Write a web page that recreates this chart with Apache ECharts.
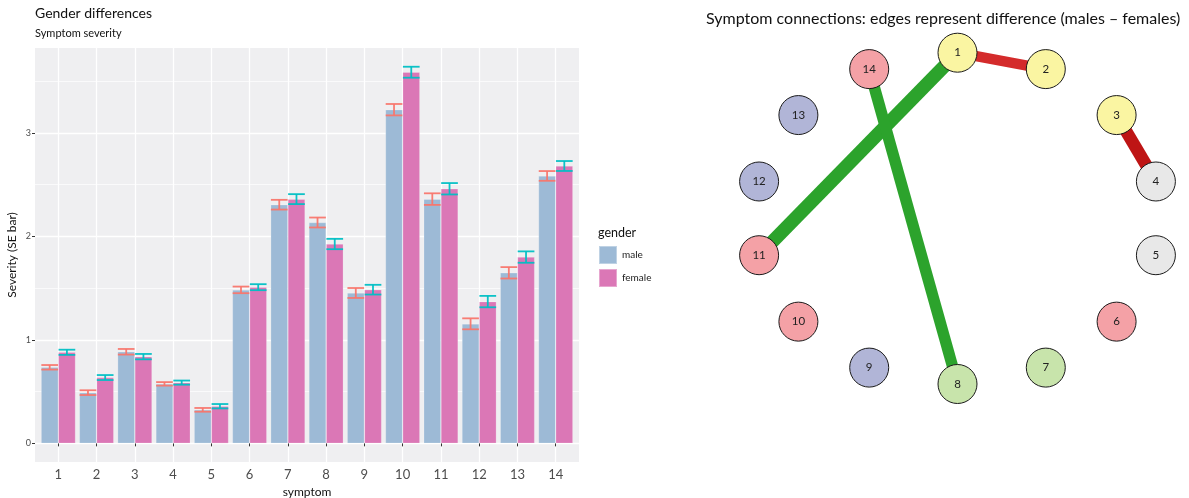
<!DOCTYPE html>
<html><head><meta charset="utf-8">
<script src="https://cdn.jsdelivr.net/npm/echarts@6/dist/echarts.min.js"></script>
<style>html,body{margin:0;padding:0;background:#fff}#c{width:1189px;height:498px}</style>
</head><body><div id="c"></div>
<script>
// ---------- data ----------
const symptoms = ['1','2','3','4','5','6','7','8','9','10','11','12','13','14'];
const maleMean   = [0.735,0.490,0.885,0.575,0.324,1.483,2.306,2.134,1.453,3.224,2.360,1.155,1.648,2.584];
const maleSE     = [0.022,0.023,0.027,0.017,0.018,0.032,0.047,0.048,0.048,0.055,0.056,0.053,0.055,0.047];
const femaleMean = [0.880,0.636,0.838,0.587,0.359,1.509,2.360,1.926,1.485,3.586,2.460,1.370,1.800,2.680];
const femaleSE   = [0.025,0.024,0.026,0.020,0.021,0.029,0.048,0.050,0.047,0.053,0.055,0.055,0.055,0.048];
const yTicks = [0,1,2,3];
const yMinorTicks = [0.5,1.5,2.5,3.5];

const nodes = ['1','2','3','4','5','6','7','8','9','10','11','12','13','14'];
const nodeGroup = ['A','A','A','B','B','C','D','D','E','C','C','E','E','C'];
const edgeFrom = ['1','3','1','14'];
const edgeTo   = ['2','4','11','8'];
const edgeWeight = [-0.40,-0.48,0.52,0.44];

// ---------- styles ----------
const FONT = 'Lato';
const groupColor = {A:'#FAF5A2', B:'#E8E8E8', C:'#F4A1A6', D:'#C8E4AB', E:'#B1B5D7'};
const maleColor = '#9DBAD6', femaleColor = '#DB77B6';
const maleErr = 'rgba(248,118,109,0.95)', femaleErr = 'rgba(0,191,196,0.95)';
const yMin = -0.18, yMax = 3.82;

function edgeColor(w){
  if (w < 0) return Math.abs(w) > 0.45 ? '#BE1515' : '#D42B2B';
  return '#2CA32C';
}

function errRender(sign, color){
  return function(params, api){
    const i = api.value(0);
    const lo = api.coord([i, api.value(1)]);
    const hi = api.coord([i, api.value(2)]);
    const bw = api.size([1, 0])[0];
    const cx = lo[0] + sign * bw * 0.225;
    const hw = bw * 0.225 * 0.97;
    const st = {stroke: color, lineWidth: 1.8};
    return {type:'group', children:[
      {type:'line', shape:{x1:cx-hw, y1:hi[1], x2:cx+hw, y2:hi[1]}, style:st},
      {type:'line', shape:{x1:cx-hw, y1:lo[1], x2:cx+hw, y2:lo[1]}, style:st},
      {type:'line', shape:{x1:cx, y1:lo[1], x2:cx, y2:hi[1]}, style:st}
    ]};
  };
}

const n = nodes.length;
const graphNodes = nodes.map((name, i) => {
  const t = 2 * Math.PI * i / n;
  return {
    name: name,
    value: [Math.sin(t), Math.cos(t)],
    itemStyle: {color: groupColor[nodeGroup[i]]}
  };
});
const graphLinks = edgeFrom.map((s, i) => ({
  source: s, target: edgeTo[i],
  lineStyle: {width: Math.abs(edgeWeight[i]) * 26, color: edgeColor(edgeWeight[i]), opacity: 1, curveness: 0}
}));

const chart = echarts.init(document.getElementById('c'), null, {renderer:'canvas'});
chart.setOption({
  animation: false,
  textStyle: {fontFamily: FONT},
  title: [
    {text:'Gender differences', left:35, top:6, padding:0, textStyle:{fontFamily:FONT, fontSize:14, fontWeight:'normal', color:'#111'}},
    {text:'Symptom severity', left:35, top:28, padding:0, textStyle:{fontFamily:FONT, fontSize:11, fontWeight:'normal', color:'#111'}},
    {text:'Symptom connections: edges represent difference (males \u2013 females)', left:706, top:11, padding:0, textStyle:{fontFamily:FONT, fontSize:16, fontWeight:'normal', color:'#111'}}
  ],
  legend: {
    data: [{name:'male', itemStyle:{color:maleColor}}, {name:'female', itemStyle:{color:femaleColor}}],
    orient:'vertical', left:598, top:245, padding:0, itemWidth:18, itemHeight:18, itemGap:3,
    icon:'rect', selectedMode:false,
    textStyle:{fontFamily:FONT, fontSize:10, color:'#222'}
  },
  graphic: [
    {type:'text', left:598, top:226, style:{text:'gender', fontFamily:FONT, fontSize:12.5, fill:'#111'}},
    {type:'line', shape:{x1:599, y1:254, x2:616, y2:254}, style:{stroke:maleErr, lineWidth:1.5}},
    {type:'line', shape:{x1:599, y1:275, x2:616, y2:275}, style:{stroke:femaleErr, lineWidth:1.5}}
  ],
  grid: [
    {left:35, top:48, width:544, height:414, show:true, backgroundColor:'#EFEFF1', borderWidth:0, outerBoundsMode:'none'},
    {left:58.3, top:48, width:497.4, height:414, outerBoundsMode:'none'},
    {left:754, top:52.7, width:407, height:331.3, outerBoundsMode:'none'}
  ],
  xAxis: [
    {gridIndex:0, type:'value', min:0, max:1, show:false},
    {gridIndex:1, type:'category', data:symptoms, boundaryGap:false,
      axisLine:{show:false},
      axisTick:{show:true, length:3, lineStyle:{color:'#333', width:1}},
      axisLabel:{fontFamily:FONT, fontSize:13, color:'#4D4D4D', margin:6},
      splitLine:{show:true, lineStyle:{color:'#FFFFFF', width:1.3}},
      name:'symptom', nameLocation:'middle', nameGap:22,
      nameTextStyle:{fontFamily:FONT, fontSize:12, color:'#111'}},
    {gridIndex:2, type:'value', min:-1, max:1, show:false}
  ],
  yAxis: [
    {gridIndex:0, type:'value', min:yMin, max:yMax,
      axisLine:{show:false},
      axisTick:{show:true, length:3, customValues:yTicks, lineStyle:{color:'#333', width:1}},
      axisLabel:{fontFamily:FONT, fontSize:9, color:'#4D4D4D', margin:4, customValues:yTicks},
      splitLine:{show:true, lineStyle:{color:'#FFFFFF', width:1.3}},
      name:'Severity (SE bar)', nameLocation:'middle', nameGap:17, nameRotate:90,
      nameTextStyle:{fontFamily:FONT, fontSize:12, color:'#111'}},
    {gridIndex:0, type:'value', min:yMin, max:yMax, position:'left',
      axisLine:{show:false},
      axisTick:{show:false, customValues:yMinorTicks},
      axisLabel:{show:false, customValues:yMinorTicks},
      splitLine:{show:true, lineStyle:{color:'#FFFFFF', width:0.7}}},
    {gridIndex:1, type:'value', min:yMin, max:yMax, show:false},
    {gridIndex:2, type:'value', min:-1, max:1, show:false}
  ],
  series: [
    {name:'male', type:'bar', xAxisIndex:1, yAxisIndex:2, data:maleMean, barWidth:'45%', barGap:'0%', clip:false,
      itemStyle:{color:maleColor, borderColor:'rgba(255,255,255,0.35)', borderWidth:0.6}, z:2},
    {name:'female', type:'bar', xAxisIndex:1, yAxisIndex:2, data:femaleMean, barWidth:'45%', barGap:'0%', clip:false,
      itemStyle:{color:femaleColor, borderColor:'rgba(255,255,255,0.35)', borderWidth:0.6}, z:2},
    {name:'male se', type:'custom', xAxisIndex:1, yAxisIndex:2, clip:false, z:3,
      renderItem: errRender(-1, maleErr), encode:{x:0, y:[1,2]},
      data: maleMean.map((m, i) => [i, m - maleSE[i], m + maleSE[i]])},
    {name:'female se', type:'custom', xAxisIndex:1, yAxisIndex:2, clip:false, z:3,
      renderItem: errRender(1, femaleErr), encode:{x:0, y:[1,2]},
      data: femaleMean.map((m, i) => [i, m - femaleSE[i], m + femaleSE[i]])},
    {name:'network', type:'graph', coordinateSystem:'cartesian2d', xAxisIndex:2, yAxisIndex:3,
      symbol:'circle', symbolSize:39,
      itemStyle:{borderColor:'#1A1A1A', borderWidth:1, opacity:1},
      label:{show:true, position:'inside', fontFamily:FONT, fontSize:11.5, color:'#222'},
      emphasis:{disabled:true},
      data: graphNodes, links: graphLinks}
  ]
});
</script></body></html>
